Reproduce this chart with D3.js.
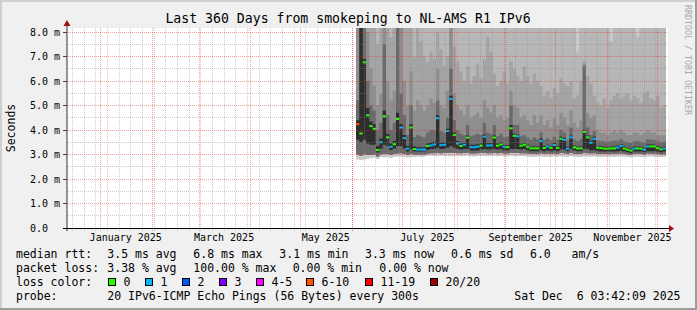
<!DOCTYPE html>
<html>
<head>
<meta charset="utf-8">
<script src="https://cdn.jsdelivr.net/npm/d3@7"></script>
<style>
  html, body { margin: 0; padding: 0; background: #f0f0f0; }
  svg { display: block; }
  text { font-family: "DejaVu Sans Mono", monospace; white-space: pre; }
</style>
</head>
<body>
<svg id="chart"></svg>
<script>
// ---- data ----
const title = "Last 360 Days from smokeping to NL-AMS R1 IPv6";
const endTime = new Date(Date.UTC(2025, 11, 6, 3, 42, 9));
const spanDays = 360;
const bucketDays = 2;   // one value per 2 days, last bucket ends at endTime

// median rtt per bucket (ms)
const median = [
  4.24,3.86,6.76,4.60,4.16,4.05,3.18,3.50,4.56,3.70,
  3.32,3.42,4.45,4.10,3.67,3.24,4.10,3.22,3.20,3.20,
  3.20,3.35,3.37,3.41,4.48,3.38,3.40,3.96,5.27,3.80,
  3.45,3.35,3.40,3.69,3.30,3.30,3.32,3.36,3.73,3.37,
  3.37,3.69,3.36,3.41,3.32,3.30,4.07,3.76,3.74,3.36,
  3.40,3.32,3.25,3.25,3.25,3.56,3.27,3.33,3.27,3.39,
  3.27,3.64,3.60,3.24,3.70,3.29,3.25,3.25,3.92,3.70,
  3.48,3.64,3.28,3.26,3.24,3.24,3.25,3.25,3.28,3.35,
  3.24,3.20,3.16,3.24,3.25,3.24,3.20,3.33,3.33,3.33,
  3.26,3.21,3.24
];
// lost pings (of 20) per bucket
const lossPings = [
  8,0,0,0,0,0,0,1,0,0,
  1,0,0,1,1,1,0,0,1,1,
  1,0,1,1,1,1,1,1,1,0,
  1,0,1,0,1,1,1,0,1,1,
  1,0,0,0,1,0,0,0,1,0,
  0,0,0,0,0,1,0,1,0,1,
  0,0,1,1,1,0,0,0,0,0,
  1,1,0,0,0,0,0,0,1,1,
  0,0,0,1,0,0,1,1,0,0,
  0,0,1
];
// smoke: spread of the 20 pings per bucket (ms); 9 = above the top of the graph
const smokeMin = [
  2.80,2.78,2.80,2.82,2.85,2.88,2.82,2.90,2.88,2.90,
  2.86,2.90,2.92,2.92,2.90,2.88,2.90,2.90,2.92,2.90,
  2.92,2.94,2.95,2.94,2.93,2.95,2.94,2.95,2.93,2.94,
  2.95,2.93,2.94,2.95,2.93,2.92,2.94,2.95,2.94,2.93,
  2.94,2.95,2.93,2.94,2.92,2.93,2.95,2.94,2.93,2.94,
  2.93,2.92,2.90,2.90,2.91,2.92,2.90,2.91,2.90,2.92,
  2.90,2.93,2.92,2.90,2.93,2.91,2.90,2.90,2.93,2.92,
  2.91,2.92,2.91,2.90,2.90,2.91,2.91,2.90,2.91,2.92,
  2.91,2.90,2.88,2.90,2.91,2.90,2.89,2.92,2.92,2.91,
  2.90,2.89,2.90
];
const smokeLo = [
  3.00,2.95,3.00,2.98,2.98,3.00,2.92,3.00,3.02,3.02,
  2.98,3.02,3.04,3.05,3.02,2.98,3.02,3.00,3.00,3.00,
  3.00,3.03,3.05,3.05,3.06,3.05,3.06,3.06,3.07,3.06,
  3.05,3.05,3.06,3.07,3.04,3.04,3.05,3.06,3.06,3.05,
  3.05,3.06,3.05,3.06,3.04,3.04,3.07,3.06,3.06,3.05,
  3.05,3.04,3.02,3.02,3.02,3.05,3.03,3.04,3.02,3.04,
  3.02,3.06,3.05,3.02,3.06,3.03,3.02,3.02,3.06,3.05,
  3.04,3.05,3.03,3.02,3.02,3.02,3.03,3.02,3.03,3.04,
  3.02,3.00,2.98,3.02,3.02,3.02,3.00,3.04,3.04,3.03,
  3.02,3.00,3.01
];
const darkLo = [
  3.60,3.50,3.60,3.45,3.40,3.40,3.08,3.25,3.40,3.35,
  3.18,3.25,3.35,3.35,3.25,3.12,3.20,3.12,3.12,3.12,
  3.12,3.18,3.22,3.22,3.28,3.22,3.22,3.28,3.35,3.28,
  3.22,3.20,3.22,3.22,3.16,3.16,3.16,3.20,3.22,3.20,
  3.20,3.22,3.20,3.22,3.16,3.16,3.22,3.22,3.22,3.20,
  3.22,3.16,3.13,3.13,3.13,3.17,3.13,3.16,3.13,3.16,
  3.13,3.20,3.20,3.13,3.22,3.15,3.13,3.13,3.22,3.22,
  3.16,3.17,3.13,3.12,3.12,3.12,3.12,3.12,3.13,3.14,
  3.12,3.09,3.06,3.12,3.12,3.12,3.09,3.13,3.13,3.13,
  3.12,3.09,3.12
];
const darkHi = [
  4.40,8.20,6.90,4.90,4.35,4.25,3.35,3.65,4.80,3.85,
  3.45,3.55,4.70,4.25,3.80,3.35,4.25,3.33,3.30,3.30,
  3.30,3.45,3.48,3.52,4.60,3.48,3.50,4.05,5.40,3.90,
  3.55,3.45,3.48,3.78,3.40,3.40,3.42,3.45,3.82,3.46,
  3.46,3.78,3.45,3.50,3.40,3.38,4.20,3.85,3.82,3.44,
  3.48,3.40,3.33,3.33,3.33,3.65,3.35,3.40,3.35,3.47,
  3.35,3.72,3.68,3.32,3.78,3.37,3.33,3.33,4.00,3.78,
  3.56,3.72,3.36,3.34,3.32,3.32,3.33,3.33,3.36,3.42,
  3.32,3.28,3.25,3.32,3.33,3.32,3.28,3.41,3.41,3.41,
  3.34,3.29,3.32
];
const smokeMid = [
  5.20,9.00,9.00,6.00,5.00,4.80,4.00,4.30,7.50,4.60,
  4.00,4.30,9.00,5.50,4.60,3.80,5.00,3.70,3.80,3.75,
  3.70,3.90,4.00,4.00,5.20,3.95,3.90,4.50,6.50,4.40,
  4.00,3.85,3.80,4.20,3.75,3.80,3.85,3.80,4.30,3.90,
  3.85,4.20,3.75,3.85,3.70,3.72,5.00,4.20,4.20,3.75,
  3.80,3.70,3.60,3.70,3.62,3.90,3.60,3.66,3.58,3.72,
  3.60,4.00,3.90,3.58,4.10,3.62,3.56,3.62,6.60,4.10,
  3.80,3.95,3.58,3.55,3.54,3.52,3.54,3.56,3.56,3.62,
  3.54,3.50,3.48,3.54,3.55,3.52,3.50,3.62,3.60,3.60,
  3.55,3.50,3.52
];
const smokeHi2 = [
  9.00,9.00,9.00,8.00,6.50,5.80,5.00,5.50,9.00,6.00,
  5.20,5.60,9.00,8.50,6.00,5.00,6.40,4.80,5.20,5.00,
  4.80,5.00,5.30,5.10,6.50,5.00,4.90,5.60,9.00,5.50,
  5.00,4.80,4.60,5.00,4.50,4.60,4.70,4.50,5.20,4.90,
  4.70,5.00,4.50,4.60,4.40,4.50,5.60,5.00,4.90,4.50,
  4.60,4.40,4.20,4.60,4.30,4.60,4.20,4.40,4.10,4.50,
  4.20,4.70,4.50,4.20,4.80,4.30,4.10,4.40,6.70,4.70,
  4.50,4.60,4.00,3.90,3.90,3.80,3.90,4.00,3.90,4.00,
  3.90,3.80,3.80,3.90,3.90,3.80,3.90,4.00,3.90,3.90,
  3.80,3.80,3.80
];
const smokeHi3 = [
  9.0,9.0,9.0,9.0,9.0,9.0,7.5,9.0,9.0,9.0,
  7.8,9.0,9.0,9.0,9.0,9.0,9.0,7.0,9.0,7.6,
  7.0,6.8,7.2,6.9,8.0,7.3,6.6,7.0,9.0,7.4,
  6.8,6.4,6.0,6.6,5.9,6.2,6.7,6.1,6.9,7.8,
  7.2,6.3,5.8,6.0,6.4,5.9,6.8,6.5,6.2,6.0,
  6.6,6.2,5.9,6.3,6.0,5.8,5.4,5.6,5.3,5.7,
  5.5,6.1,5.9,5.8,6.0,5.3,5.4,6.0,6.8,6.2,
  5.9,5.4,5.1,5.0,5.3,4.9,5.2,5.4,5.5,5.3,
  5.4,5.5,5.2,5.4,5.3,5.1,5.5,5.6,5.3,5.2,
  5.4,4.9,5.0
];
const smokeHi4 = [
  9,9,9,9,9,9,9,9,9,9,
  9,9,9,9,9,9,9,9,9,9,
  9,9,9,9,9,9,9,9,9,9,
  9,9,9,9,9,9,9,9,9,9,
  9,9,9,9,9,9,9,9,9,9,
  9,9,9,9,9,9,9,9,9,9,
  9,9,9,9,9,9,7.2,9,9,9,
  9,9,9,9,9,9,7.6,9,9,9,
  9,9,9,9,7.8,9,9,9,9,9,
  9,9,9
];
const smokeMax = [
  9,9,9,9,9,9,9,9,9,9,
  9,9,9,9,9,9,9,9,9,9,
  9,9,9,9,9,9,9,9,9,9,
  9,9,9,9,9,9,9,9,9,9,
  9,9,9,9,9,9,9,9,9,9,
  9,9,9,9,9,9,9,9,9,9,
  9,9,9,9,9,9,9,9,9,9,
  9,9,9,8.0,9,9,9,9,9,9,
  9,9,9,9,9,9,9,9,9,9,
  9,9,9
];

const yTickValues = [0, 1, 2, 3, 4, 5, 6, 7, 8];
const yTickLabels = ["0.0", "1.0 m", "2.0 m", "3.0 m", "4.0 m", "5.0 m", "6.0 m", "7.0 m", "8.0 m"];
const monthLabels = ["January 2025", "March 2025", "May 2025", "July 2025", "September 2025", "November 2025"];
const monthLabelDates = ["2025-01-16", "2025-03-16", "2025-05-16", "2025-07-16", "2025-09-16", "2025-11-16"];

const lossNames = ["0", "1", "2", "3", "4-5", "6-10", "11-19", "20/20"];
const lossUpper = [0, 1, 2, 3, 5, 10, 19, 20];
const lossColors = ["#26ff00", "#00b8ff", "#0059ff", "#7e00ff", "#ff00ff", "#ff5500", "#ff0000", "#a10000"];

const rttStats = ["3.5 ms avg", "6.8 ms max", "3.1 ms min", "3.3 ms now", "0.6 ms sd", "6.0   am/s"];
const lossStats = ["3.38 % avg", "100.00 % max", "0.00 % min", "0.00 % now"];
const probeText = "20 IPv6-ICMP Echo Pings (56 Bytes) every 300s";
const stampText = "Sat Dec  6 03:42:09 2025";

// ---- setup ----
const W = 697, H = 310;
const plot = {left: 66, right: 666, top: 28, bottom: 228};
const DAY = 86400000;

const svg = d3.select("#chart").attr("width", W).attr("height", H);

const x = d3.scaleUtc()
  .domain([new Date(endTime - spanDays * DAY), endTime])
  .range([plot.left, plot.right]);
const y = d3.scaleLinear()
  .domain([0, (plot.bottom - plot.top) / 24.5])
  .range([plot.bottom, plot.top]);

// bucket start times, plus closing time for the step areas
const n = median.length;
const times = d3.range(n + 1).map(i => new Date(endTime - (n - i) * bucketDays * DAY));

// background + 3d frame
svg.append("rect").attr("width", W).attr("height", H).attr("fill", "#f0f0f0");
svg.append("rect").attr("x", 0).attr("y", 0).attr("width", W).attr("height", 2).attr("fill", "#cfcfcf");
svg.append("rect").attr("x", 0).attr("y", 0).attr("width", 2).attr("height", H).attr("fill", "#cfcfcf");
svg.append("rect").attr("x", 0).attr("y", H - 2).attr("width", W).attr("height", 2).attr("fill", "#9c9c9c");
svg.append("rect").attr("x", W - 2).attr("y", 0).attr("width", 2).attr("height", H).attr("fill", "#9c9c9c");

// canvas
svg.append("rect")
  .attr("x", plot.left + 1).attr("y", plot.top)
  .attr("width", plot.right - plot.left + 1).attr("height", plot.bottom - plot.top)
  .attr("fill", "#ffffff");

svg.append("clipPath").attr("id", "clip")
  .append("rect")
  .attr("x", plot.left).attr("y", plot.top)
  .attr("width", plot.right - plot.left + 1).attr("height", plot.bottom - plot.top);

const g = svg.append("g").attr("clip-path", "url(#clip)");

// smoke bands, outermost first
const bands = [
  {lo: smokeMin, hi: smokeMax, fill: "#cacaca"},
  {lo: smokeLo, hi: smokeHi4, fill: "#b7b7b7"},
  {lo: smokeLo, hi: smokeHi3, fill: "#a4a4a4"},
  {lo: smokeLo, hi: smokeHi2, fill: "#8e8e8e"},
  {lo: smokeLo, hi: smokeMid, fill: "#6a6a6a"},
  {lo: darkLo, hi: darkHi, fill: "#2e2e2e"}
];
bands.forEach(b => {
  const pts = times.map((t, i) => ({t, lo: b.lo[Math.min(i, n - 1)], hi: b.hi[Math.min(i, n - 1)]}));
  g.append("path")
    .datum(pts)
    .attr("fill", b.fill)
    .attr("d", d3.area()
      .curve(d3.curveStepAfter)
      .x(d => x(d.t))
      .y0(d => y(d.lo))
      .y1(d => y(d.hi)));
});

// median rtt, coloured by loss
const lossIndex = p => lossUpper.findIndex(u => p <= u);
g.selectAll("rect.median")
  .data(median)
  .join("rect")
  .attr("class", "median")
  .attr("x", (d, i) => x(times[i]))
  .attr("width", (d, i) => x(times[i + 1]) - x(times[i]))
  .attr("y", d => y(d) - 1)
  .attr("height", 2)
  .attr("fill", (d, i) => lossColors[lossIndex(lossPings[i])]);

// grid (dotted, drawn over the smoke)
const gridMinor = "rgba(140,140,140,0.45)";
const gridMajor = "rgba(230,40,40,0.45)";
const grid = svg.append("g")
  .attr("shape-rendering", "crispEdges")
  .attr("fill", "none");

function hLine(v, color) {
  const py = Math.floor(y(v)) + 0.5;
  grid.append("line")
    .attr("x1", plot.left).attr("x2", plot.right + 2)
    .attr("y1", py).attr("y2", py)
    .attr("stroke", color).attr("stroke-width", 1)
    .attr("stroke-dasharray", "1 1");
}
function vLine(t, color, below) {
  const px = Math.floor(x(t)) + 0.5;
  grid.append("line")
    .attr("x1", px).attr("x2", px)
    .attr("y1", plot.top).attr("y2", plot.bottom + below)
    .attr("stroke", color).attr("stroke-width", 1)
    .attr("stroke-dasharray", "1 1");
}
y.ticks(16).filter(v => v > 0 && v % 1 !== 0).forEach(v => hLine(v, gridMinor));
d3.utcSunday.range(x.domain()[0], x.domain()[1]).forEach(t => vLine(t, gridMinor, 3));
yTickValues.filter(v => v > 0).forEach(v => hLine(v, gridMajor));
d3.utcMonth.range(x.domain()[0], x.domain()[1]).forEach(t => vLine(t, gridMajor, 4));

// axes
yTickValues.forEach((v, i) => {
  const py = Math.floor(y(v)) + 0.5;
  svg.append("line")
    .attr("x1", plot.left - 3).attr("x2", plot.left + 1)
    .attr("y1", py).attr("y2", py)
    .attr("stroke", "#444");
  svg.append("text")
    .attr("x", 30).attr("y", y(v) + 3.6)
    .attr("font-size", "10px")
    .attr("fill", "#000")
    .text(yTickLabels[i]);
});
svg.append("line")
  .attr("x1", plot.left + 1).attr("x2", plot.left + 1)
  .attr("y1", 22).attr("y2", plot.bottom + 3)
  .attr("stroke", "#333").attr("stroke-width", 1);
svg.append("line")
  .attr("x1", plot.left - 3).attr("x2", plot.right + 5)
  .attr("y1", plot.bottom + 0.5).attr("y2", plot.bottom + 0.5)
  .attr("stroke", "#000").attr("stroke-width", 1);
svg.append("path")
  .attr("d", `M${plot.left + 1},20 L${plot.left - 2.5},26 L${plot.left + 4.5},26 Z`)
  .attr("fill", "#a01010");
svg.append("path")
  .attr("d", `M${plot.right + 8},${plot.bottom + 0.5} L${plot.right + 3},${plot.bottom - 3} L${plot.right + 3},${plot.bottom + 4} Z`)
  .attr("fill", "#a01010");

monthLabels.forEach((m, i) => {
  svg.append("text")
    .attr("x", x(new Date(monthLabelDates[i] + "T00:00:00Z")))
    .attr("y", 241)
    .attr("text-anchor", "middle")
    .attr("font-size", "10px")
    .text(m);
});

// titles
svg.append("text")
  .attr("x", 348).attr("y", 22.5)
  .attr("text-anchor", "middle")
  .attr("font-size", "13.2px")
  .text(title);
svg.append("text")
  .attr("transform", "translate(14.5,128) rotate(-90)")
  .attr("text-anchor", "middle")
  .attr("font-size", "11.5px")
  .text("Seconds");
svg.append("text")
  .attr("transform", "translate(684.5,5) rotate(90)")
  .attr("font-size", "8.3px")
  .attr("fill", "#a8a8a8")
  .text("RRDTOOL / TOBI OETIKER");

// legend
const legend = svg.append("g").attr("font-size", "11.5px").attr("fill", "#000");
const rows = [257.5, 271.5, 285.5, 299.5];
legend.append("text").attr("x", 16).attr("y", rows[0]).text("median rtt:");
[107.3, 193.3, 279.3, 365, 451, 530].forEach((px, i) => {
  legend.append("text").attr("x", px).attr("y", rows[0]).text(rttStats[i]);
});
legend.append("text").attr("x", 16).attr("y", rows[1]).text("packet loss:");
[107.3, 193.3, 292.7, 379.3].forEach((px, i) => {
  legend.append("text").attr("x", px).attr("y", rows[1]).text(lossStats[i]);
});
legend.append("text").attr("x", 16).attr("y", rows[2]).text("loss color:");
[108.5, 145.5, 182.5, 219.5, 256.5, 306.5, 365.5, 430.5].forEach((px, i) => {
  legend.append("rect")
    .attr("x", px).attr("y", rows[2] - 7)
    .attr("width", 7).attr("height", 7)
    .attr("fill", lossColors[i])
    .attr("stroke", "#000").attr("stroke-width", 1);
  legend.append("text").attr("x", px + 15).attr("y", rows[2]).text(lossNames[i]);
});
legend.append("text").attr("x", 16).attr("y", rows[3]).text("probe:");
legend.append("text").attr("x", 107.3).attr("y", rows[3]).text(probeText);
legend.append("text").attr("x", 680.5).attr("y", rows[3]).attr("text-anchor", "end").text(stampText);
</script>
</body>
</html>
